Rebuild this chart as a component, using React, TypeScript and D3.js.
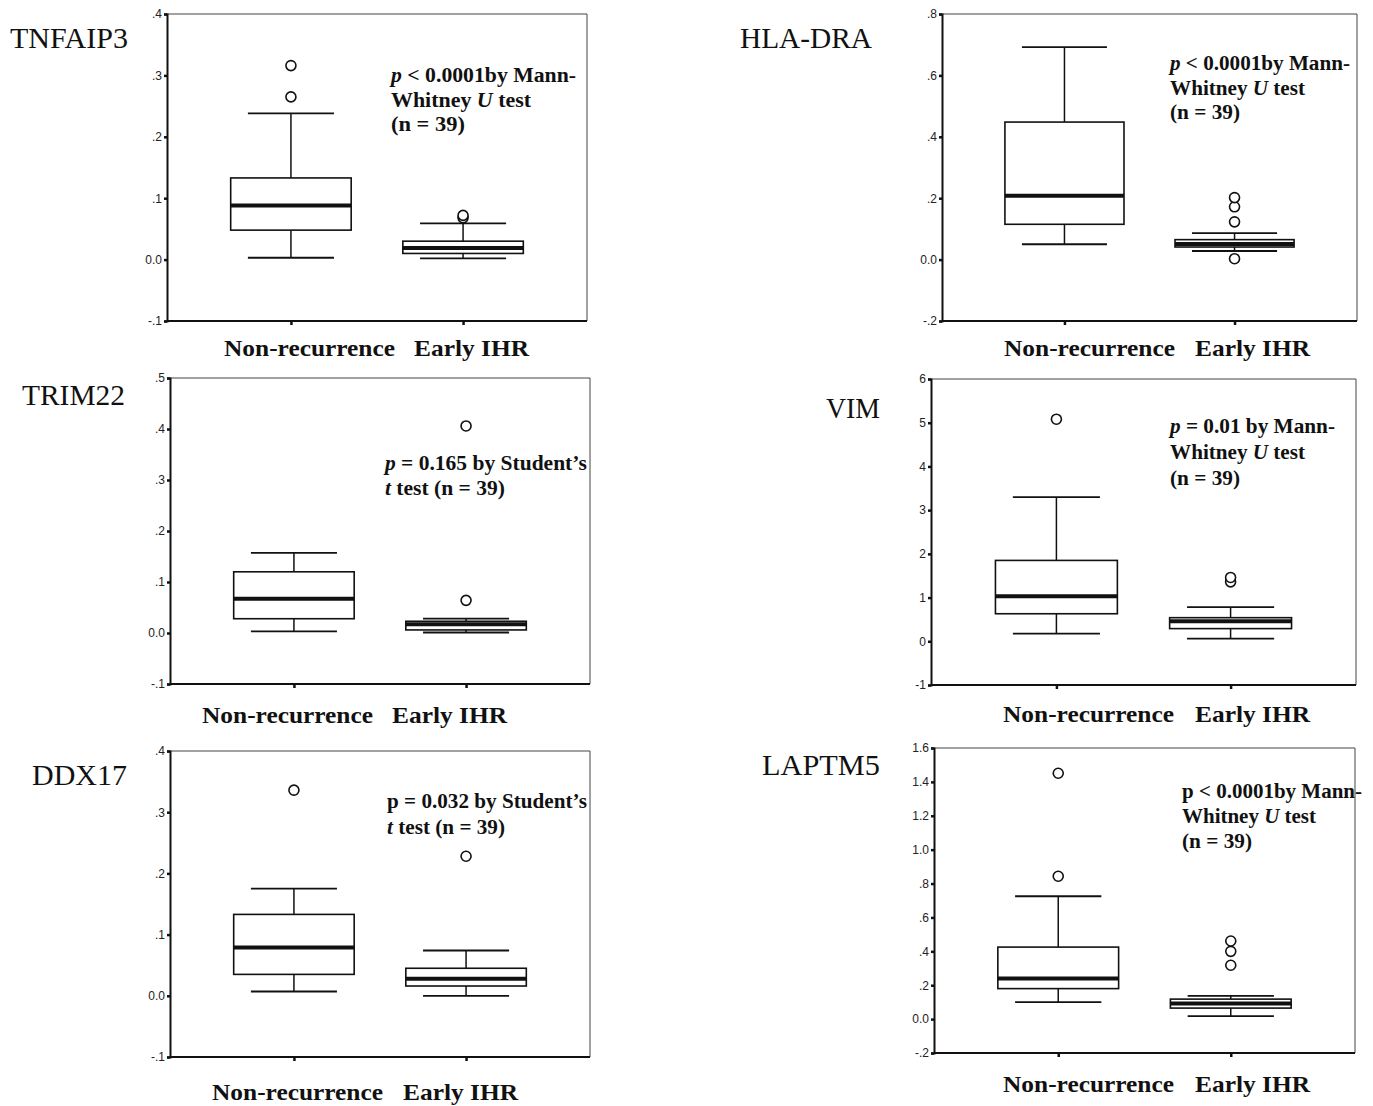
import React, { useEffect, useRef } from 'react';
import * as d3 from 'd3';

const W = 1373, H = 1106;

// ---- data ----
const groups = ['Non-recurrence', 'Early IHR'];
const genes = ['TNFAIP3', 'HLA-DRA', 'TRIM22', 'VIM', 'DDX17', 'LAPTM5'];

const yDomains = [[-0.1, 0.4], [-0.2, 0.8], [-0.1, 0.5], [-1, 6], [-0.1, 0.4], [-0.2, 1.6]];
const yTicks = [
  [-0.1, 0, 0.1, 0.2, 0.3, 0.4],
  [-0.2, 0, 0.2, 0.4, 0.6, 0.8],
  [-0.1, 0, 0.1, 0.2, 0.3, 0.4, 0.5],
  [-1, 0, 1, 2, 3, 4, 5, 6],
  [-0.1, 0, 0.1, 0.2, 0.3, 0.4],
  [-0.2, 0, 0.2, 0.4, 0.6, 0.8, 1.0, 1.2, 1.4, 1.6],
];
const tickLabels = [
  ['-.1', '0.0', '.1', '.2', '.3', '.4'],
  ['-.2', '0.0', '.2', '.4', '.6', '.8'],
  ['-.1', '0.0', '.1', '.2', '.3', '.4', '.5'],
  ['-1', '0', '1', '2', '3', '4', '5', '6'],
  ['-.1', '0.0', '.1', '.2', '.3', '.4'],
  ['-.2', '0.0', '.2', '.4', '.6', '.8', '1.0', '1.2', '1.4', '1.6'],
];

// [Non-recurrence, Early IHR] per gene
const whiskerLow = [[0.003, 0.002], [0.05, 0.028], [0.003, 0.001], [0.175, 0.06], [0.007, 0.0], [0.10, 0.018]];
const q1 = [[0.048, 0.010], [0.115, 0.041], [0.028, 0.006], [0.63, 0.29], [0.035, 0.016], [0.18, 0.065]];
const median = [[0.088, 0.019], [0.208, 0.051], [0.067, 0.017], [1.03, 0.46], [0.079, 0.028], [0.239, 0.092]];
const q3 = [[0.133, 0.030], [0.448, 0.065], [0.120, 0.023], [1.85, 0.54], [0.133, 0.045], [0.425, 0.118]];
const whiskerHigh = [[0.238, 0.059], [0.692, 0.086], [0.157, 0.028], [3.30, 0.78], [0.175, 0.074], [0.725, 0.137]];
const outliers = [
  [[0.265, 0.316], [0.068, 0.072]],
  [[], [0.003, 0.123, 0.172, 0.202]],
  [[], [0.064, 0.406]],
  [[5.08], [1.36, 1.46]],
  [[0.336], [0.228]],
  [[0.843, 1.451], [0.318, 0.40, 0.461]],
];

// *x* marks italic text
const annotations = [
  ['*p* < 0.0001by Mann-', 'Whitney *U* test', '(n = 39)'],
  ['*p* < 0.0001by Mann-', 'Whitney *U* test', '(n = 39)'],
  ['*p* = 0.165 by Student\u2019s', '*t* test (n = 39)'],
  ['*p* = 0.01 by Mann-', 'Whitney *U* test', '(n = 39)'],
  ['p = 0.032 by Student\u2019s', '*t* test (n = 39)'],
  ['p < 0.0001by Mann-', 'Whitney *U* test', '(n = 39)'],
];

// ---- layout ----
const frames = [[167, 14, 587, 321], [942, 14, 1357, 321], [170, 378, 590, 684], [931, 379, 1356, 685], [170, 751, 590, 1057], [934, 748, 1355, 1053]];
const titlePos = [[10, 48, 118], [740, 48, 132], [22, 405, 103], [826, 418, 54], [32, 785, 95], [762, 775, 118]];
const catPos = [[224, 414, 356], [1004, 1195, 356], [202, 392, 723], [1003, 1195, 722], [212, 403, 1100], [1003, 1195, 1092]];
const annPos = [[391, 82, 24.5], [1170, 70, 24.5], [385, 470, 25], [1170, 433, 26], [387, 808, 26], [1182, 798, 25]];
const annWidths = [[185, 140, 74], [180, 135, 70], [202, 120], [165, 135, 70], [200, 118], [180, 134, 70]];

const serif = '"Liberation Serif", "Times New Roman", serif';

export default function App() {
  const ref = useRef<SVGSVGElement>(null);

  useEffect(() => {
    const svg = d3.select(ref.current);
    svg.selectAll('*').remove();
    svg.append('rect').attr('width', W).attr('height', H).attr('fill', '#fff');

    genes.forEach((gene, gi) => {
      const [L, T, R, B] = frames[gi];
      const g = svg.append('g');
      const y = d3.scaleLinear().domain(yDomains[gi]).range([B, T]);
      const x = d3.scalePoint().domain(groups).range([L, R]).padding(0.72);
      const step = x.step();
      const bw = step * 0.7, cw = step * 0.5;

      // frame
      g.append('line').attr('x1', L).attr('x2', R).attr('y1', T).attr('y2', T).attr('stroke', '#444').attr('stroke-width', 1);
      g.append('line').attr('x1', R).attr('x2', R).attr('y1', T).attr('y2', B).attr('stroke', '#444').attr('stroke-width', 1);

      // y axis
      const ya = d3.axisLeft(y).tickValues(yTicks[gi]).tickSize(3).tickPadding(2)
        .tickFormat((d, i) => tickLabels[gi][i]);
      const yg = g.append('g').attr('transform', `translate(${L},0)`).call(ya);
      yg.select('.domain').attr('stroke', '#111').attr('stroke-width', 2);
      yg.selectAll('.tick line').attr('stroke', '#111').attr('stroke-width', 2.5);
      yg.selectAll('.tick text').attr('font-family', '"Liberation Sans", Arial, sans-serif')
        .attr('font-size', 12).attr('fill', '#222');

      // x axis
      const xa = d3.axisBottom(x).tickSize(4).tickFormat(() => '');
      const xg = g.append('g').attr('transform', `translate(0,${B})`).call(xa);
      xg.select('.domain').attr('d', `M${L},0H${R}`).attr('stroke', '#111').attr('stroke-width', 2);
      xg.selectAll('.tick line').attr('stroke', '#111').attr('stroke-width', 2.5);

      // boxes
      groups.forEach((grp, k) => {
        const cx = x(grp) as number;
        const bx = g.append('g').attr('stroke', '#111').attr('fill', 'none');
        bx.append('line').attr('x1', cx).attr('x2', cx).attr('y1', y(whiskerHigh[gi][k])).attr('y2', y(q3[gi][k])).attr('stroke-width', 1.5);
        bx.append('line').attr('x1', cx).attr('x2', cx).attr('y1', y(q1[gi][k])).attr('y2', y(whiskerLow[gi][k])).attr('stroke-width', 1.5);
        bx.append('line').attr('x1', cx - cw / 2).attr('x2', cx + cw / 2).attr('y1', y(whiskerHigh[gi][k])).attr('y2', y(whiskerHigh[gi][k])).attr('stroke-width', 1.8);
        bx.append('line').attr('x1', cx - cw / 2).attr('x2', cx + cw / 2).attr('y1', y(whiskerLow[gi][k])).attr('y2', y(whiskerLow[gi][k])).attr('stroke-width', 1.8);
        bx.append('rect').attr('x', cx - bw / 2).attr('width', bw)
          .attr('y', y(q3[gi][k])).attr('height', y(q1[gi][k]) - y(q3[gi][k]))
          .attr('fill', '#fff').attr('stroke-width', 1.6);
        bx.append('line').attr('x1', cx - bw / 2).attr('x2', cx + bw / 2).attr('y1', y(median[gi][k])).attr('y2', y(median[gi][k])).attr('stroke-width', 4);
        bx.selectAll('circle.o').data(outliers[gi][k]).enter().append('circle')
          .attr('class', 'o').attr('cx', cx).attr('cy', d => y(d)).attr('r', 5)
          .attr('fill', '#fff').attr('stroke-width', 1.6);
      });

      // title
      const [tx, ty, tw] = titlePos[gi];
      g.append('text').attr('x', tx).attr('y', ty).attr('font-family', serif).attr('font-size', 29)
        .attr('fill', '#111').attr('textLength', tw).attr('lengthAdjust', 'spacingAndGlyphs').text(gene);

      // category labels
      const [c1, c2, cy] = catPos[gi];
      [[c1, 171], [c2, 115]].forEach(([cxp, cwid], k) => {
        g.append('text').attr('x', cxp).attr('y', cy).attr('font-family', serif).attr('font-weight', 'bold')
          .attr('font-size', 24).attr('fill', '#111').attr('textLength', cwid).attr('lengthAdjust', 'spacingAndGlyphs')
          .text(groups[k]);
      });

      // annotation
      const [ax, ay, lh] = annPos[gi];
      annotations[gi].forEach((line, li) => {
        const t = g.append('text').attr('x', ax).attr('y', ay + li * lh).attr('font-family', serif)
          .attr('font-weight', 'bold').attr('font-size', 20).attr('fill', '#111')
          .attr('textLength', annWidths[gi][li]).attr('lengthAdjust', 'spacingAndGlyphs');
        line.split('*').forEach((part, pi) => {
          if (!part) return;
          t.append('tspan').attr('font-style', pi % 2 === 1 ? 'italic' : 'normal').text(part);
        });
      });
    });
  }, []);

  return (
    <svg ref={ref} width={W} height={H} style={{ position: 'absolute', left: 0, top: 0 }} />
  );
}
